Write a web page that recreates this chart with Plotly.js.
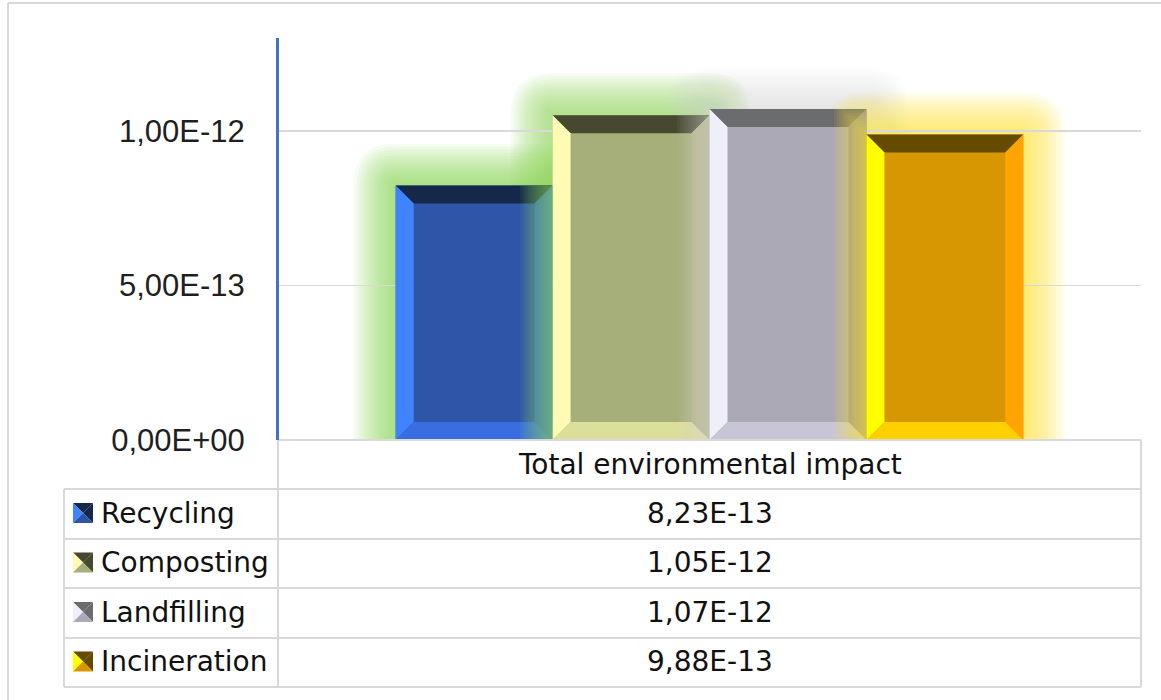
<!DOCTYPE html>
<html><head><meta charset="utf-8">
<script src="https://cdn.plot.ly/plotly-3.0.1.min.js"></script>
<style>html,body{margin:0;padding:0;background:#fff}#chart{width:1161px;height:700px}</style>
</head><body><div id="chart"></div>
<script>
// ---- data ----
const categories = ['Recycling', 'Composting', 'Landfilling', 'Incineration'];
const values = [8.23e-13, 1.05e-12, 1.07e-12, 9.88e-13];
const seriesName = 'Total environmental impact';
const tickValues = [0, 5e-13, 1e-12];
const tickLabels = ['0,00E+00', '5,00E-13', '1,00E-12'];

// ---- styles ----
const faces   = ['#2f55a9', '#a6ae79', '#aaa9b5', '#d79700'];
const tops    = ['#15284a', '#46482f', '#6b6c6e', '#654b00'];
const lefts   = ['#3f83ff', '#fffbb4', '#efeffb', '#ffff00'];
const rights  = ['#2f62cf', '#b4b484', '#8c8c9c', '#ffa400'];
const bottoms = ['#3a6de0', '#dcdf9b', '#c6c6d6', '#ffd000'];
const glows   = ['#86d850', '#8ed85a', '#dedede', '#ffea30'];

function fmt(v) {
  const s = v.toExponential(2);
  const parts = s.split('e');
  const n = parseInt(parts[1], 10);
  return parts[0].replace('.', ',') + 'E' + (n < 0 ? '-' : '+') + String(Math.abs(n)).padStart(2, '0');
}

const L = 278, R = 1141, T = 38, B = 440;
const xRange = [-1.25, 4.25];
const yRange = [0, 1.3e-12];
const pxPerX = (R - L) / (xRange[1] - xRange[0]);
const pxPerY = (B - T) / (yRange[1] - yRange[0]);
const dx = p => p / pxPerX, dy = p => p / pxPerY;
const fx = px => (px - L) / (R - L), fy = py => (B - py) / (B - T);

const shapes = [];
const xs = categories.map((c, i) => i);
const glowOpacity = [0.075, 0.075, 0.05, 0.075];

// glow halos (below), rounded corners
categories.forEach((c, i) => {
  const v = values[i], x0 = xs[i] - 0.5, x1 = xs[i] + 0.5;
  for (let k = 1; k <= 14; k++) {
    const e = k * 3, ex = dx(e), ey = dy(e);
    const path = 'M' + (x0 - ex) + ',0' +
      'L' + (x0 - ex) + ',' + v +
      'Q' + (x0 - ex) + ',' + (v + ey) + ' ' + x0 + ',' + (v + ey) +
      'L' + x1 + ',' + (v + ey) +
      'Q' + (x1 + ex) + ',' + (v + ey) + ' ' + (x1 + ex) + ',' + v +
      'L' + (x1 + ex) + ',0Z';
    shapes.push({type: 'path', layer: 'below', xref: 'x', yref: 'y', path: path,
      fillcolor: glows[i], opacity: glowOpacity[i], line: {width: 0}});
  }
});

// bevels
const bv = 18;
const P = pts => 'M' + pts.map(p => p[0] + ',' + p[1]).join('L') + 'Z';
categories.forEach((c, i) => {
  const v = values[i], x0 = xs[i] - 0.5, x1 = xs[i] + 0.5, bx = dx(bv), by = dy(bv);
  const add = (pts, col) => shapes.push({type: 'path', layer: 'above', xref: 'x', yref: 'y',
    path: P(pts), fillcolor: col, line: {width: 0}});
  add([[x0, v], [x1, v], [x1 - bx, v - by], [x0 + bx, v - by]], tops[i]);
  add([[x0, 0], [x0, v], [x0 + bx, v - by], [x0 + bx, by]], lefts[i]);
  add([[x1, 0], [x1, v], [x1 - bx, v - by], [x1 - bx, by]], rights[i]);
  add([[x0, 0], [x1, 0], [x1 - bx, by], [x0 + bx, by]], bottoms[i]);
});

// glow of each bar spilling over the previous bar (above)
for (let i = 1; i < categories.length; i++) {
  const left = xs[i] - 0.5;
  for (let k = 1; k <= 12; k++) {
    const e = k * 2.7;
    shapes.push({type: 'rect', layer: 'above', xref: 'x', yref: 'y',
      x0: left - dx(e), x1: left, y0: 0, y1: Math.min(values[i - 1], values[i] + dy(e)),
      fillcolor: glows[i], opacity: glowOpacity[i] + 0.005, line: {width: 0}});
  }
}

// table grid
const gcol = '#d9d9d9';
const line = (x0, y0, x1, y1, col, w) => shapes.push({type: 'line', layer: 'above', xref: 'paper', yref: 'paper',
  x0: fx(x0), y0: fy(y0), x1: fx(x1), y1: fy(y1), line: {color: col || gcol, width: w || 2}});
const rowLines = [489, 539, 588, 638, 687];
line(L, B, R, B);
rowLines.forEach(y => line(64, y, R, y));
line(64, 489, 64, 687);
line(L, B, L, 687);
line(R, B, R, 687);
// outer chart border
line(8, 3, 8, 700);
line(8, 3, 1161, 3);
// axis line on top
line(L, T, L, B, '#4472c4', 2);

const annotations = [];
const tfont = {family: 'DejaVu Sans, Verdana, sans-serif', size: 28, color: '#111111'};
annotations.push({xref: 'paper', yref: 'paper', x: fx((L + R) / 2), y: fy(464), text: seriesName,
  showarrow: false, xanchor: 'center', yanchor: 'middle', font: tfont});
categories.forEach((c, i) => {
  const cy = (rowLines[i] + rowLines[i + 1]) / 2 - 1;
  annotations.push({xref: 'paper', yref: 'paper', x: fx((L + R) / 2), y: fy(cy), text: fmt(values[i]),
    showarrow: false, xanchor: 'center', yanchor: 'middle', font: tfont});
  annotations.push({xref: 'paper', yref: 'paper', x: fx(99), y: fy(cy), text: c,
    showarrow: false, xanchor: 'left', yanchor: 'middle', font: tfont});
  // legend key icon
  const ix0 = 73, ix1 = 93, iy0 = cy - 10, iy1 = cy + 10, cx = 83;
  const tri = (pts, col) => shapes.push({type: 'path', layer: 'above', xref: 'paper', yref: 'paper',
    path: P(pts.map(p => [fx(p[0]), fy(p[1])])), fillcolor: col, line: {width: 0}});
  tri([[ix0, iy0], [ix1, iy0], [cx, cy]], tops[i]);
  tri([[ix1, iy0], [ix1, iy1], [cx, cy]], tops[i]);
  tri([[ix0, iy0], [ix0, iy1], [cx, cy]], lefts[i]);
  tri([[ix0, iy1], [ix1, iy1], [cx, cy]], faces[i]);
});

const trace = {
  type: 'bar', x: xs, y: values, width: 1, name: seriesName,
  marker: {color: faces, line: {width: 0}}, hoverinfo: 'skip'
};

const layout = {
  width: 1161, height: 700,
  margin: {l: L, r: 1161 - R, t: T, b: 700 - B, pad: 0},
  paper_bgcolor: '#ffffff', plot_bgcolor: 'rgba(0,0,0,0)',
  showlegend: false,
  xaxis: {range: xRange, visible: false, fixedrange: true},
  yaxis: {range: yRange, tickvals: tickValues, ticktext: tickLabels,
    showgrid: true, gridcolor: '#d9d9d9', gridwidth: 1.5, zeroline: false,
    showline: true, linecolor: '#4472c4', linewidth: 2,
    ticks: 'outside', ticklen: 25, tickcolor: 'rgba(0,0,0,0)',
    tickfont: {family: 'Liberation Sans, Arial, sans-serif', size: 31, color: '#1f1f1f'},
    automargin: false, fixedrange: true},
  shapes: shapes,
  annotations: annotations
};

Plotly.newPlot('chart', [trace], layout, {displayModeBar: false, staticPlot: true});
</script>
</body></html>
